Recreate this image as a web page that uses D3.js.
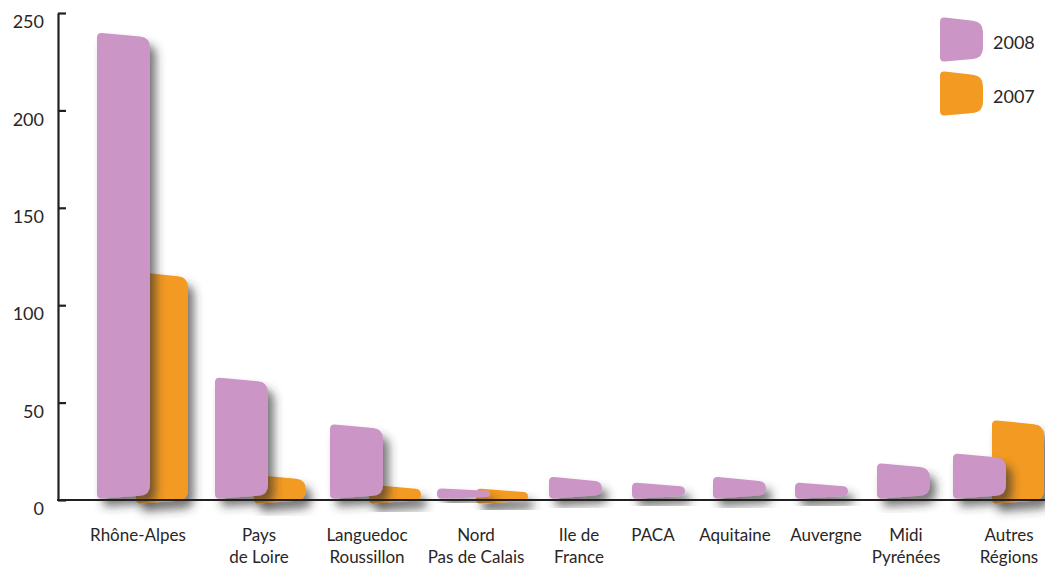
<!DOCTYPE html>
<html>
<head>
<meta charset="utf-8">
<script src="https://cdn.jsdelivr.net/npm/d3@7"></script>
<style>
  body { margin: 0; background: #fff; }
  text { font-family: Lato, "Open Sans", sans-serif; fill: #2a2627; }
</style>
</head>
<body>
<script>
// categories (line breaks kept with \n) and the two series
const categories = ["Rhône-Alpes", "Pays\nde Loire", "Languedoc\nRoussillon", "Nord\nPas de Calais",
  "Ile de\nFrance", "PACA", "Aquitaine", "Auvergne", "Midi\nPyrénées", "Autres\nRégions"];
const values2008 = [240, 63, 39, 6, 12, 9, 12, 9, 19, 24];
const values2007 = [117, 13, 8, 6, 0, 0, 0, 0, 0, 41];
const seriesNames = ["2008", "2007"];
const yTicks = [0, 50, 100, 150, 200, 250];

const width = 1045, height = 567;
const colors = {"2008": "#cb96c5", "2007": "#f39a22"};
const barW = 53, orangeShift = 39;

const svg = d3.select("body").append("svg")
  .attr("width", width)
  .attr("height", height);

// drop shadow under the bars
const filter = svg.append("defs").append("filter")
  .attr("id", "shadow")
  .attr("x", "-30%").attr("y", "-30%")
  .attr("width", "170%").attr("height", "170%");
filter.append("feDropShadow")
  .attr("dx", 6).attr("dy", 8)
  .attr("stdDeviation", 5)
  .attr("flood-color", "#333")
  .attr("flood-opacity", 0.65);

const y = d3.scaleLinear().domain([0, 250]).range([500, 13]);

// group positions are uneven in the original, so an ordinal scale holds them
const x = d3.scaleOrdinal()
  .domain(categories)
  .range([97, 215, 330, 437, 549, 632, 713, 795, 877, 953]);
const xLabel = d3.scaleOrdinal()
  .domain(categories)
  .range([138, 259, 367, 476, 579, 653, 735, 826, 906, 1009]);

// polygon with rounded corners
function roundPoly(pts, radii) {
  const n = pts.length;
  const unit = (a, b) => {
    const dx = b[0] - a[0], dy = b[1] - a[1], l = Math.hypot(dx, dy);
    return [dx / l, dy / l, l];
  };
  const corners = pts.map((p, i) => {
    const prev = pts[(i - 1 + n) % n], next = pts[(i + 1) % n];
    const u1 = unit(p, prev), u2 = unit(p, next);
    const r = Math.min(radii[i], u1[2] / 2, u2[2] / 2);
    return {p, a: [p[0] + u1[0] * r, p[1] + u1[1] * r], b: [p[0] + u2[0] * r, p[1] + u2[1] * r]};
  });
  let d = `M${corners[0].b}`;
  for (let i = 1; i <= n; i++) {
    const c = corners[i % n];
    d += `L${c.a}Q${c.p} ${c.b}`;
  }
  return d + "Z";
}

// slanted bar: left side taller than the right side
function barPath(x0, w, yTop, yBottom) {
  const h = yBottom - yTop;
  const sTop = Math.min(5, h * 0.25), sBot = Math.min(4, h * 0.2);
  return roundPoly(
    [[x0, yTop], [x0 + w, yTop + sTop], [x0 + w, yBottom - sBot], [x0, yBottom]],
    [5, 10, 10, 5]);
}

const rows = categories.map((c, i) => ({c, v2008: values2008[i], v2007: values2007[i]}));

// 2007 bars sit behind 2008 bars
svg.append("g").selectAll("path")
  .data(rows.filter(d => d.v2007 > 0))
  .join("path")
  .attr("d", d => barPath(x(d.c) + orangeShift, barW - 1, y(d.v2007), y(0) + 4))
  .attr("fill", colors["2007"])
  .attr("filter", "url(#shadow)");

svg.append("g").selectAll("path")
  .data(rows)
  .join("path")
  .attr("d", d => barPath(x(d.c), barW, y(d.v2008), y(0) - 1))
  .attr("fill", colors["2008"])
  .attr("filter", "url(#shadow)");

// y axis: ticks point inward, labels on the left
const yAxis = svg.append("g")
  .attr("transform", "translate(58,0)")
  .call(d3.axisLeft(y).tickValues(yTicks).tickSizeInner(-8).tickSizeOuter(0).tickPadding(14));
yAxis.select(".domain").attr("stroke", "#231f20").attr("stroke-width", 2.2);
yAxis.selectAll(".tick line").attr("stroke", "#231f20").attr("stroke-width", 2.2);
yAxis.selectAll(".tick text")
  .attr("font-family", "Lato, sans-serif")
  .attr("font-size", 18)
  .attr("fill", "#2a2627")
  .attr("y", 9);

// baseline
svg.append("line")
  .attr("x1", 57).attr("x2", width)
  .attr("y1", y(0)).attr("y2", y(0))
  .attr("stroke", "#231f20")
  .attr("stroke-width", 2.2);

// category labels
const labels = svg.append("g").selectAll("text")
  .data(categories)
  .join("text")
  .attr("text-anchor", "middle")
  .attr("font-size", 17)
  .attr("x", d => xLabel(d))
  .attr("y", 541);
labels.selectAll("tspan")
  .data(d => d.split("\n"))
  .join("tspan")
  .attr("x", function() { return this.parentNode.getAttribute("x"); })
  .attr("dy", (d, i) => i === 0 ? 0 : 22)
  .text(d => d);

// legend
const legend = svg.append("g").selectAll("g")
  .data(seriesNames)
  .join("g")
  .attr("transform", (d, i) => `translate(940,${17 + i * 54})`);
legend.append("path")
  .attr("d", barPath(0, 43, 0, 45))
  .attr("fill", d => colors[d]);
legend.append("text")
  .attr("x", 53)
  .attr("y", 32)
  .attr("font-size", 18)
  .text(d => d);
</script>
</body>
</html>
